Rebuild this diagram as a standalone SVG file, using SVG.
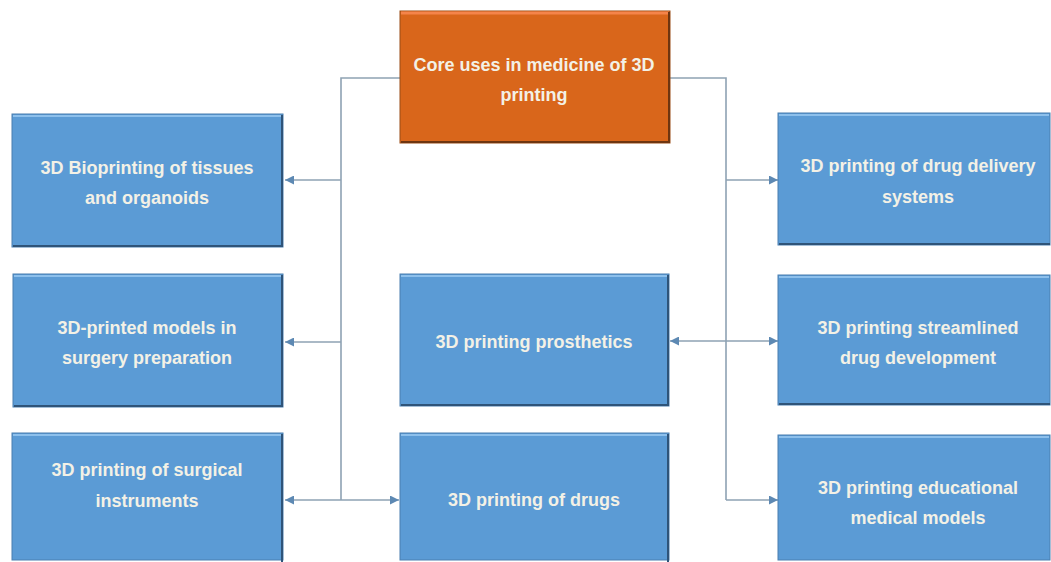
<svg xmlns="http://www.w3.org/2000/svg" width="1051" height="562" viewBox="0 0 1051 562">
  <defs>
    <style>
      .box { fill: #5b9bd5; stroke: #4a7fb0; stroke-width: 1; }
      .shade { fill: none; stroke: #2f5479; stroke-width: 2; }
      .hi { stroke: #8dc0ec; stroke-width: 2; }
      .core { fill: #d9661b; stroke: #9a4d17; stroke-width: 1; }
      .core-shade { fill: none; stroke: #6e3510; stroke-width: 2; }
      .core-hi { stroke: #f5844a; stroke-width: 3; }
      .label { font-family: "Liberation Sans", Arial, sans-serif; font-weight: bold; font-size: 18px; fill: #f3f1e6; text-anchor: middle; }
      .wire { fill: none; stroke: #8ea2b3; stroke-width: 1.6; }
    </style>
    <marker id="tip" viewBox="0 0 10 10" refX="10" refY="5" markerWidth="9" markerHeight="9" markerUnits="userSpaceOnUse" orient="auto-start-reverse">
      <path d="M0,0 L10,5 L0,10 Z" fill="#5d89b3"/>
    </marker>
  </defs>

  <rect width="1051" height="562" fill="#ffffff"/>

  <!-- connectors -->
  <g id="connectors">
    <!-- left trunk -->
    <path class="wire" d="M400,78 H341 V500"/>
    <path class="wire" d="M341,180 H285" marker-end="url(#tip)"/>
    <path class="wire" d="M341,342 H285" marker-end="url(#tip)"/>
    <path class="wire" d="M341,500 H285" marker-end="url(#tip)"/>
    <path class="wire" d="M341,500 H399" marker-end="url(#tip)"/>
    <!-- right trunk -->
    <path class="wire" d="M670,78 H726 V500"/>
    <path class="wire" d="M726,180 H778" marker-end="url(#tip)"/>
    <path class="wire" d="M726,341 H778" marker-end="url(#tip)"/>
    <path class="wire" d="M726,500 H778" marker-end="url(#tip)"/>
    <path class="wire" d="M726,341 H670" marker-end="url(#tip)"/>
  </g>

  <!-- central topic -->
  <g id="core">
    <rect class="core" x="400" y="11" width="270" height="132"/>
    <line class="core-hi" x1="401" y1="13" x2="669" y2="13"/>
    <path class="core-shade" d="M669,12 V142 H401"/>
    <text class="label" x="534" y="71">Core uses in medicine of 3D</text>
    <text class="label" x="534" y="101">printing</text>
  </g>

  <g id="bioprinting">
    <rect class="box" x="12" y="114" width="271" height="133"/>
    <line class="hi" x1="13" y1="116" x2="282" y2="116"/>
    <path class="shade" d="M282,115 V246 H13"/>
    <text class="label" x="147" y="174">3D Bioprinting of tissues</text>
    <text class="label" x="147" y="204">and organoids</text>
  </g>

  <g id="surgery-models">
    <rect class="box" x="13" y="274" width="270" height="133"/>
    <line class="hi" x1="14" y1="276" x2="282" y2="276"/>
    <path class="shade" d="M282,275 V406 H14"/>
    <text class="label" x="147" y="334">3D-printed models in</text>
    <text class="label" x="147" y="364">surgery preparation</text>
  </g>

  <g id="surgical-instruments">
    <rect class="box" x="12" y="433" width="271" height="127"/>
    <line class="hi" x1="13" y1="435" x2="282" y2="435"/>
    <path class="shade" d="M282,434 V562"/>
    <text class="label" x="147" y="476">3D printing of surgical</text>
    <text class="label" x="147" y="507">instruments</text>
  </g>

  <g id="prosthetics">
    <rect class="box" x="400" y="274" width="269" height="132"/>
    <line class="hi" x1="401" y1="276" x2="668" y2="276"/>
    <path class="shade" d="M668,275 V405 H401"/>
    <text class="label" x="534" y="348">3D printing prosthetics</text>
  </g>

  <g id="drugs">
    <rect class="box" x="400" y="433" width="269" height="127"/>
    <line class="hi" x1="401" y1="435" x2="668" y2="435"/>
    <path class="shade" d="M668,434 V562"/>
    <text class="label" x="534" y="506">3D printing of drugs</text>
  </g>

  <g id="drug-delivery">
    <rect class="box" x="778" y="113" width="272" height="132"/>
    <line class="hi" x1="779" y1="115" x2="1049" y2="115"/>
    <path class="shade" d="M779,244 H1050"/>
    <text class="label" x="918" y="172">3D printing of drug delivery</text>
    <text class="label" x="918" y="203">systems</text>
  </g>

  <g id="drug-development">
    <rect class="box" x="778" y="275" width="272" height="130"/>
    <line class="hi" x1="779" y1="277" x2="1049" y2="277"/>
    <path class="shade" d="M779,404 H1050"/>
    <text class="label" x="918" y="334">3D printing streamlined</text>
    <text class="label" x="918" y="364">drug development</text>
  </g>

  <g id="educational-models">
    <rect class="box" x="778" y="435" width="272" height="125"/>
    <line class="hi" x1="779" y1="437" x2="1049" y2="437"/>
    <text class="label" x="918" y="494">3D printing educational</text>
    <text class="label" x="918" y="524">medical models</text>
  </g>
</svg>
